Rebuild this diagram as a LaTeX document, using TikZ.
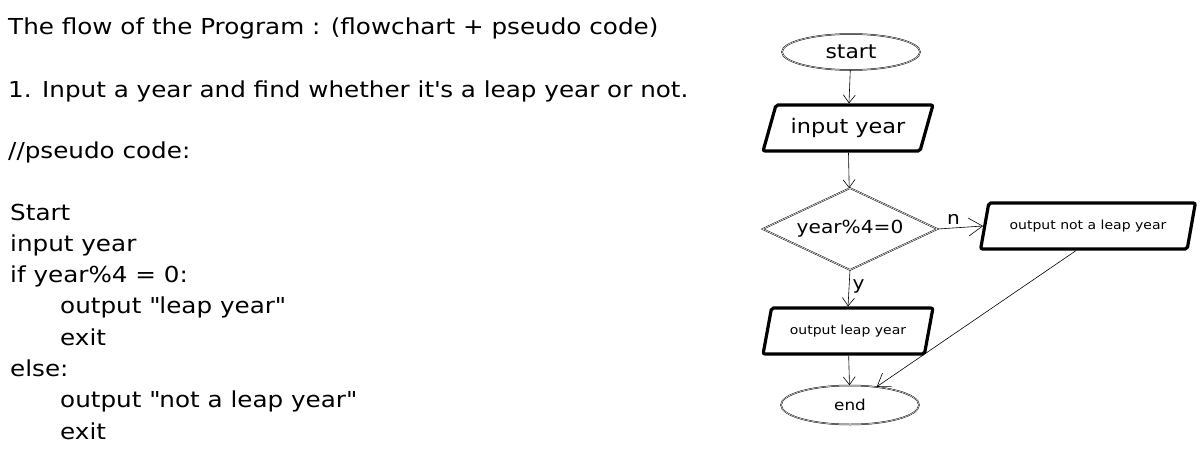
\documentclass[tikz,border=0pt]{standalone}
\usepackage{fontspec}
\setmainfont{DejaVu Sans}[FakeStretch=1.12]
\usetikzlibrary{shapes.geometric, arrows.meta}

\tikzset{
  terminal/.style={draw, ellipse, line width=0.5pt, double distance=0.5pt, minimum width=138pt, minimum height=36pt, inner sep=0pt, font=\fontsize{18}{20}\selectfont},
  iobox/.style={draw, trapezium, trapezium left angle=62, trapezium right angle=118, trapezium stretches=true, line width=3.2pt, rounded corners=2pt, minimum width=170pt, minimum height=46pt, inner sep=0pt},
  decision/.style={draw, diamond, aspect=2.1, line width=0.5pt, double distance=0.6pt, minimum width=175pt, minimum height=82pt, inner sep=0pt, font=\fontsize{18}{20}\selectfont},
  flow/.style={-{Straight Barb[length=8pt,width=12pt]}, line width=0.6pt},
  codetext/.style={anchor=base west, inner sep=0pt, font=\fontsize{22}{26}\selectfont},
}

\begin{document}
\begin{tikzpicture}[x=1pt, y=-1pt]
        % --- CANVAS ---
        \fill[white] (0,0) rectangle (1203,458);
        \useasboundingbox (0,0) rectangle (1203,458);

        % --- NOTES ON THE LEFT ---
        \node[codetext] (title) at (8,34) {The flow of the Program : (flowchart + pseudo code)};
        \node[codetext] (task) at (8,97) {1. Input a year and find whether it\textquotesingle s a leap year or not.};
        \node[codetext] (codehead) at (8,158) {//pseudo code:};

        % pseudo code lines (indent/text)
        \foreach \ind/\txt [count=\i] in {0/Start, 0/input year, 0/if year\%4 = 0:, 50/output \textquotedbl leap year\textquotedbl, 50/exit, 0/else:, 50/output \textquotedbl not a leap year\textquotedbl, 50/exit} {
            \node[codetext] (code\i) at (10+\ind, 188.7+31.3*\i) {\txt};
        }

        % =========================================
        % FLOWCHART
        % =========================================
        \node[terminal, font=\fontsize{19.5}{22}\selectfont] (start) at (851,52) {start};
        \node[iobox, font=\fontsize{20}{22}\selectfont] (input) at (848,128) {input year};
        \node[decision] (test) at (850,229) {year\%4=0};
        \node[iobox, minimum width=215pt, font=\fontsize{12.5}{14}\selectfont] (outnot) at (1088,226) {output not a leap year};
        \node[iobox, font=\fontsize{12.5}{14}\selectfont] (outleap) at (848,331) {output leap year};
        \node[terminal, minimum height=39pt, font=\fontsize{15}{17}\selectfont] (stop) at (850,405) {end};

        % --- CONNECTORS ---
        \draw[flow] (start) -- (input);
        \draw[flow] (input) -- (test);
        \draw[flow, -{Straight Barb[length=14pt,width=18pt]}] (test.east) -- node[above, pos=0.35, font=\fontsize{18}{20}\selectfont] (nlabel) {n} (outnot.west);
        \draw[flow] (test.south) -- node[right, pos=0.45, font=\fontsize{18}{20}\selectfont] (ylabel) {y} (outleap.north);
        \draw[flow] (outleap) -- (stop);
        \draw[flow, -{Straight Barb[length=12pt,width=16pt]}] ([xshift=-12pt]outnot.south) -- (stop);

    \end{tikzpicture}
\end{document}
